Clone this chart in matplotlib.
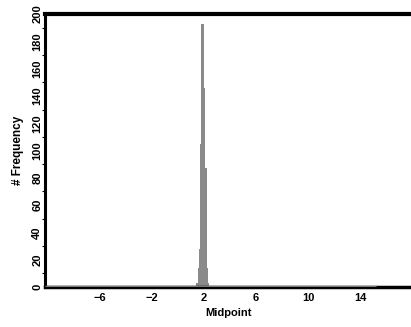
import matplotlib
matplotlib.use("Agg")
import matplotlib.pyplot as plt
import numpy as np

# histogram midpoints and counts
midpoints = [1.45, 1.55, 1.65, 1.75, 1.85, 1.95, 2.05, 2.15, 2.25, 2.35]
counts = [3, 14, 28, 105, 193, 193, 146, 87, 14, 3]
bin_width = 0.1
x_ticks = [-6, -2, 2, 6, 10, 14]
y_ticks = [0, 20, 40, 60, 80, 100, 120, 140, 160, 180, 200]

plt.rcParams['font.family'] = ['Liberation Sans', 'DejaVu Sans']

fig = plt.figure(figsize=(4.11, 3.27), dpi=100)
ax = fig.add_axes([45/411, 1 - 287/327, 366/411, 273/327])

ax.bar(midpoints, counts, width=bin_width, color='#8a8a8a', edgecolor='none')
ax.hlines(0, -10.23, 15.2, color='#7a7a7a', linewidth=2.5, zorder=3)

ax.set_xlim(-10.23, 17.92)
ax.set_ylim(0, 200)

ax.spines['right'].set_visible(False)
ax.spines['top'].set_linewidth(3)
ax.spines['left'].set_linewidth(2.2)
ax.spines['bottom'].set_linewidth(2.5)
for s in ['top', 'left', 'bottom']:
    ax.spines[s].set_color('black')

ax.set_xticks(x_ticks)
ax.set_xticklabels([str(t).replace('-', '\u2212') for t in x_ticks], fontsize=8, fontweight='bold')
ax.set_yticks(y_ticks)
ax.set_yticklabels([str(t) for t in y_ticks], fontsize=8, fontweight='bold',
                   rotation=90, va='center')
ax.set_yticks(np.arange(10, 200, 20), minor=True)
ax.tick_params(axis='x', length=0, pad=4)
ax.tick_params(axis='y', which='major', length=0, pad=2)
ax.tick_params(axis='y', which='minor', length=2, width=0.8)

ax.set_xlabel('Midpoint', fontsize=8, fontweight='bold', labelpad=4)
ax.set_ylabel('# Frequency', fontsize=8.5, fontweight='bold', labelpad=6)

fig.savefig('out.png', dpi=100)
